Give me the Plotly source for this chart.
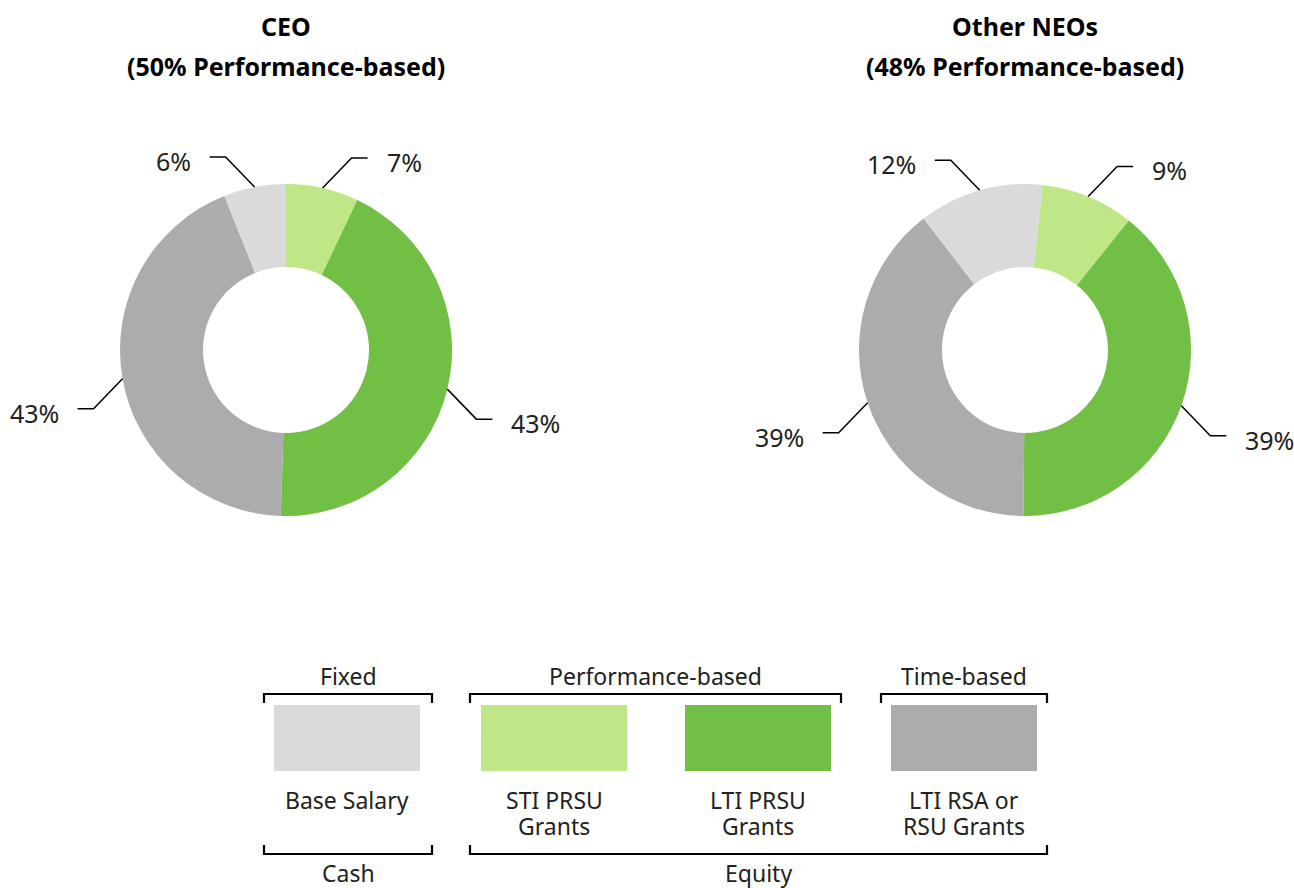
import math
import plotly.graph_objects as go

# ---------------- data ----------------
slice_categories = ["STI PRSU Grants", "LTI PRSU Grants", "LTI RSA or RSU Grants", "Base Salary"]
ceo_values = [7, 43, 43, 6]
neo_values = [9, 39, 39, 12]
slice_colors = ["#c0e787", "#71bf44", "#acacac", "#dadada"]

chart_titles = [["CEO", "(50% Performance-based)"],
                ["Other NEOs", "(48% Performance-based)"]]

legend_items = [["Base Salary"], ["STI PRSU", "Grants"], ["LTI PRSU", "Grants"], ["LTI RSA or", "RSU Grants"]]
legend_colors = ["#dadada", "#c0e787", "#71bf44", "#acacac"]
top_groups = ["Fixed", "Performance-based", "Time-based"]
bottom_groups = ["Cash", "Equity"]

# ---------------- layout helpers ----------------
W, H = 1294, 888
FONT = "Noto Sans"
R = 166
centers = [(286, 350), (1025, 350)]
rotations = [0, 6]


def px(x):
    return x / W


def py(y):
    return 1 - y / H


fig = go.Figure()
shapes = []
annotations = []


def text(x, y, s, size, xanchor="center", bold=False, color="#222"):
    annotations.append(dict(x=px(x), y=py(y), xref="paper", yref="paper",
                            text=f"<b>{s}</b>" if bold else s, showarrow=False,
                            xanchor=xanchor, yanchor="middle",
                            font=dict(family=FONT, size=size, color=color)))


for (cx, cy), vals, rot, title in zip(centers, [ceo_values, neo_values], rotations, chart_titles):
    fig.add_trace(go.Pie(
        values=vals, labels=slice_categories, sort=False, direction="clockwise",
        rotation=rot, hole=0.5, textinfo="none", showlegend=False,
        marker=dict(colors=slice_colors, line=dict(width=0)),
        domain=dict(x=[px(cx - R), px(cx + R)], y=[py(cy + R), py(cy - R)]),
    ))
    for i, line in enumerate(title):
        text(cx, 26 + 40 * i, line, 25, bold=True, color="#000")
    total = sum(vals)
    cum = 0
    for v in vals:
        mid = rot + (cum + v / 2) / total * 360
        cum += v
        a = math.radians(mid)
        sx, sy = cx + R * math.sin(a), cy - R * math.cos(a)
        side = 1 if math.sin(a) >= 0 else -1
        vdir = -1 if math.cos(a) > 0 else 1
        ex, ey = sx + 29 * side, sy + 30 * vdir
        hx = ex + 16 * side
        shapes.append(dict(type="path", xref="paper", yref="paper",
                           path=f"M {px(sx)} {py(sy)} L {px(ex)} {py(ey)} L {px(hx)} {py(ey)}",
                           line=dict(color="#000", width=1.5)))
        text(hx + 17 * side, ey + 4, f"{v}%", 25, xanchor="left" if side > 0 else "right")

# ---------------- custom legend ----------------
rect_x0 = [274, 481, 685, 891]
rect_w = 146
for x0, col, lab in zip(rect_x0, legend_colors, legend_items):
    shapes.append(dict(type="rect", xref="paper", yref="paper",
                       x0=px(x0), x1=px(x0 + rect_w), y0=py(771), y1=py(705),
                       fillcolor=col, line=dict(width=0)))
    for i, line in enumerate(lab):
        text(x0 + rect_w / 2, 800 + 26 * i, line, 23)

top_spans = [(264, 432), (470, 841), (881, 1047)]
for (a, b), lab in zip(top_spans, top_groups):
    shapes.append(dict(type="path", xref="paper", yref="paper",
                       path=f"M {px(a)} {py(703)} L {px(a)} {py(694)} L {px(b)} {py(694)} L {px(b)} {py(703)}",
                       line=dict(color="#000", width=2.2)))
    text((a + b) / 2, 676, lab, 23)

bottom_spans = [(264, 432), (470, 1047)]
for (a, b), lab in zip(bottom_spans, bottom_groups):
    shapes.append(dict(type="path", xref="paper", yref="paper",
                       path=f"M {px(a)} {py(845)} L {px(a)} {py(854)} L {px(b)} {py(854)} L {px(b)} {py(845)}",
                       line=dict(color="#000", width=2.2)))
    text((a + b) / 2, 873, lab, 23)

fig.update_layout(
    width=W, height=H, margin=dict(l=0, r=0, t=0, b=0),
    paper_bgcolor="white", plot_bgcolor="white",
    shapes=shapes, annotations=annotations,
    font=dict(family=FONT),
)

fig.write_html("out.html", config={"displayModeBar": False},
               post_script="document.body.style.margin='0px';document.body.style.overflow='hidden';")
